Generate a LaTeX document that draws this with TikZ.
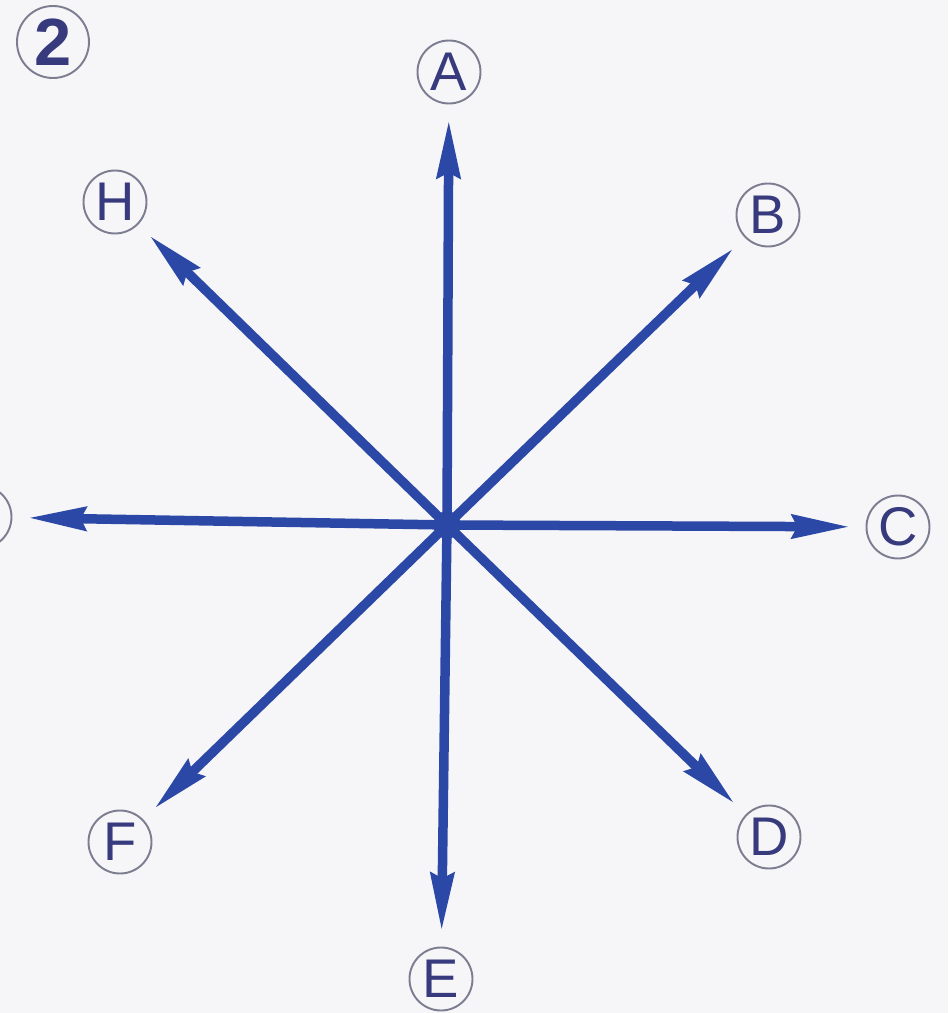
\documentclass[tikz,border=0pt]{standalone}
\usepackage{fontspec}
\setmainfont{Liberation Sans}
\usetikzlibrary{arrows.meta}

\definecolor{arrowblue}{RGB}{44,72,166}
\definecolor{letternavy}{RGB}{55,58,125}
\definecolor{ringgray}{RGB}{125,125,145}
\definecolor{paper}{RGB}{246,246,249}

\begin{document}
\begin{tikzpicture}[
    dirlabel/.style={circle, draw=ringgray, line width=1.1pt, minimum size=1.26cm, inner sep=0pt, outer sep=0.33cm, text=letternavy, font=\fontsize{31}{32}\selectfont},
    numlabel/.style={circle, draw=ringgray, line width=1.1pt, minimum size=1.44cm, inner sep=0pt, text=letternavy, font=\fontsize{38}{40}\selectfont\bfseries},
    hub/.style={circle, fill=arrowblue, minimum size=0.55cm, inner sep=0pt},
    arrow/.style={-{Stealth[length=1.15cm, width=0.46cm, inset=0.1cm]}, line width=0.19cm, draw=arrowblue}
]

    % PAGE
    \useasboundingbox (-8.94,-9.76) rectangle (10.02,10.5);
    \clip (-8.94,-9.76) rectangle (10.02,10.5);
    \fill[paper] (-8.94,-9.76) rectangle (10.02,10.5);

    % NUMBER
    \node (num) [numlabel] at (-7.88,9.66) {2};

    % DIRECTION LABELS
    \node (A) [dirlabel] at (0.04,9.06) {A};
    \node (B) [dirlabel] at (6.42,6.20) {B};
    \node (C) [dirlabel] at (9.02,-0.04) {C};
    \node (D) [dirlabel] at (6.44,-6.24) {D};
    \node (E) [dirlabel] at (-0.12,-9.08) {E};
    \node (F) [dirlabel] at (-6.54,-6.34) {F};
    \node (G) [dirlabel] at (-9.34,0.16) {G};
    \node (H) [dirlabel] at (-6.64,6.46) {H};

    % CENTRE
    \node (o) [hub] at (0,0) {};

    % ARROWS
    \foreach \d in {A,B,C,D,E,F,G,H}
        \draw [arrow] (o.center) -- (\d);

\end{tikzpicture}
\end{document}
